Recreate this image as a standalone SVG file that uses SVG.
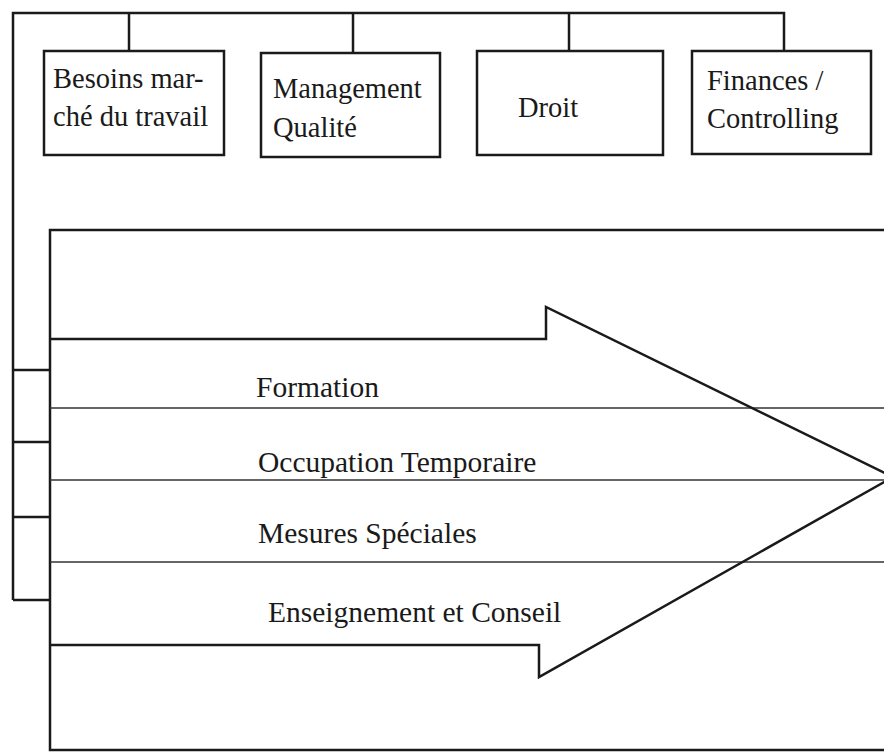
<svg xmlns="http://www.w3.org/2000/svg" width="884" height="753" viewBox="0 0 884 753">
<style>
.box{fill:#fff;stroke:#1a1a1a;stroke-width:2.5}
.ln{fill:none;stroke:#1a1a1a;stroke-width:2.5}
.thin{fill:none;stroke:#333;stroke-width:1.3}
text{font-family:"Liberation Serif","Times New Roman",serif;font-size:28.5px;fill:#1a1a1a}
.lab{font-size:29.5px}
</style>
<rect width="884" height="753" fill="#fff"/>
<g id="connectors">
<polyline class="ln" points="13,600 13,13 784,13 784,51"/>
<line class="ln" x1="129" y1="13" x2="129" y2="51"/>
<line class="ln" x1="353" y1="13" x2="353" y2="53"/>
<line class="ln" x1="569" y1="13" x2="569" y2="51"/>
<line class="ln" x1="13" y1="370" x2="50" y2="370"/>
<line class="ln" x1="13" y1="442" x2="50" y2="442"/>
<line class="ln" x1="13" y1="517" x2="50" y2="517"/>
<line class="ln" x1="13" y1="600" x2="50" y2="600"/>
</g>
<g id="node-besoins">
<rect class="box" x="44" y="51" width="180" height="104"/>
<text x="53" y="88">Besoins mar-</text>
<text x="53" y="126">ché du travail</text>
</g>
<g id="node-management">
<rect class="box" x="261" y="53" width="179" height="104"/>
<text x="273" y="98">Management</text>
<text x="273" y="137">Qualité</text>
</g>
<g id="node-droit">
<rect class="box" x="477" y="51" width="186" height="104"/>
<text x="518" y="117">Droit</text>
</g>
<g id="node-finances">
<rect class="box" x="692" y="51" width="179" height="103"/>
<text x="707" y="90">Finances /</text>
<text x="707" y="128">Controlling</text>
</g>
<g id="frame">
<polyline class="ln" points="886,230 50,230 50,750 886,750"/>
<line class="thin" x1="50" y1="408" x2="884" y2="408"/>
<line class="thin" x1="50" y1="480" x2="884" y2="480"/>
<line class="thin" x1="50" y1="562" x2="884" y2="562"/>
<polyline class="ln" points="50,339 546,339 546,307 893,477 539,677 539,645 50,645"/>
</g>
<g id="labels">
<text class="lab" x="256" y="397">Formation</text>
<text class="lab" x="258" y="472">Occupation Temporaire</text>
<text class="lab" x="258" y="543">Mesures Spéciales</text>
<text class="lab" x="268" y="622">Enseignement et Conseil</text>
</g>
</svg>
